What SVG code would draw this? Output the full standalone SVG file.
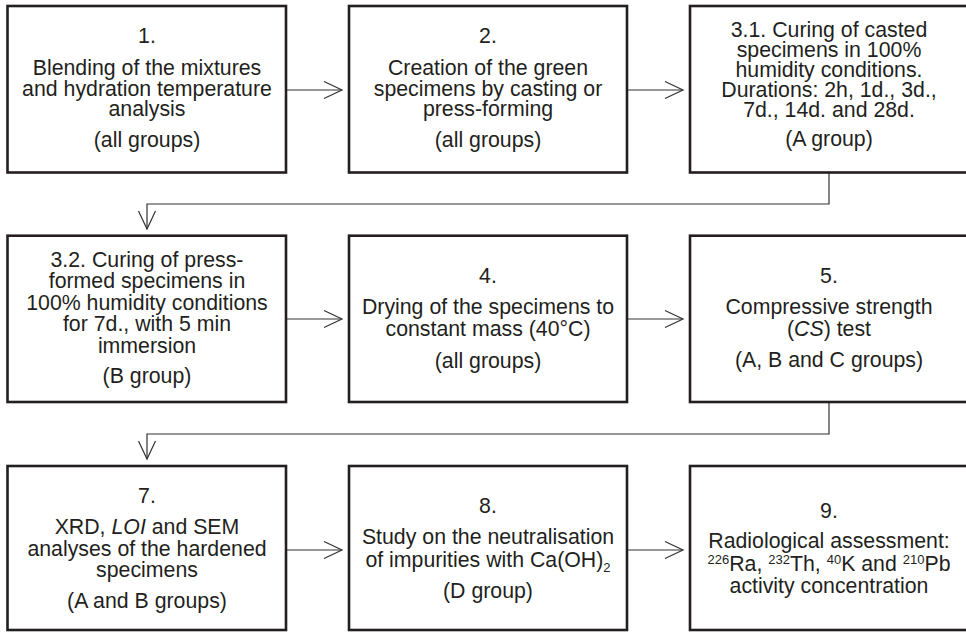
<svg xmlns="http://www.w3.org/2000/svg" width="966" height="632" viewBox="0 0 966 632">
<style>
.box{fill:#fff;stroke:#231f20;stroke-width:2.6}
.t{font-family:"Liberation Sans",Arial,Helvetica,sans-serif;font-size:21.3px;fill:#231f20;text-anchor:middle}
.c{fill:none;stroke:#333;stroke-width:1.2}
.sup{font-size:13px}
</style>
<defs>
<marker id="arr" markerUnits="userSpaceOnUse" markerWidth="20" markerHeight="20" refX="18" refY="9" orient="auto" viewBox="0 0 20 18" overflow="visible">
<path d="M0,0.5 L18,9 L0,17.5" fill="none" stroke="#333" stroke-width="1.2"/>
</marker>
</defs>
<rect width="966" height="632" fill="#fff"/>
<g id="connectors">
<path class="c" d="M287,90 H342" marker-end="url(#arr)"/>
<path class="c" d="M627,90 H683" marker-end="url(#arr)"/>
<path class="c" d="M829,172 V204 H147 V229" marker-end="url(#arr)"/>
<path class="c" d="M287,319 H342" marker-end="url(#arr)"/>
<path class="c" d="M627,319 H683" marker-end="url(#arr)"/>
<path class="c" d="M829,402 V434 H147 V459" marker-end="url(#arr)"/>
<path class="c" d="M287,550 H342" marker-end="url(#arr)"/>
<path class="c" d="M627,550 H683" marker-end="url(#arr)"/>
</g>
<g id="n1">
<rect class="box" x="7.5" y="6" width="278.5" height="166.5"/>
<text class="t" x="147" y="43">1.</text>
<text class="t" x="147" y="75">Blending of the mixtures</text>
<text class="t" x="147" y="95.5">and hydration temperature</text>
<text class="t" x="147" y="116">analysis</text>
<text class="t" x="147" y="146.5">(all groups)</text>
</g>
<g id="n2">
<rect class="box" x="349" y="6" width="278" height="166.5"/>
<text class="t" x="488" y="43">2.</text>
<text class="t" x="488" y="75">Creation of the green</text>
<text class="t" x="488" y="95.5">specimens by casting or</text>
<text class="t" x="488" y="116">press-forming</text>
<text class="t" x="488" y="146.5">(all groups)</text>
</g>
<g id="n3-1">
<rect class="box" x="690" y="6" width="279" height="166.5"/>
<text class="t" x="829" y="36.5">3.1. Curing of casted</text>
<text class="t" x="829" y="56.5">specimens in 100%</text>
<text class="t" x="829" y="76.5">humidity conditions.</text>
<text class="t" x="829" y="96.5">Durations: 2h, 1d., 3d.,</text>
<text class="t" x="829" y="116.5">7d., 14d. and 28d.</text>
<text class="t" x="829" y="145.5">(A group)</text>
</g>
<g id="n3-2">
<rect class="box" x="7.5" y="235.7" width="278.5" height="166.3"/>
<text class="t" x="147" y="266.5">3.2. Curing of press-</text>
<text class="t" x="147" y="288">formed specimens in</text>
<text class="t" x="147" y="309.5">100% humidity conditions</text>
<text class="t" x="147" y="331">for 7d., with 5 min</text>
<text class="t" x="147" y="352.5">immersion</text>
<text class="t" x="147" y="382.5">(B group)</text>
</g>
<g id="n4">
<rect class="box" x="349" y="235.7" width="278" height="166.3"/>
<text class="t" x="488" y="283">4.</text>
<text class="t" x="488" y="314">Drying of the specimens to</text>
<text class="t" x="488" y="336">constant mass (40°C)</text>
<text class="t" x="488" y="367.5">(all groups)</text>
</g>
<g id="n5">
<rect class="box" x="690" y="235.7" width="279" height="166.3"/>
<text class="t" x="829" y="283">5.</text>
<text class="t" x="829" y="314">Compressive strength</text>
<text class="t" x="829" y="336">(<tspan font-style="italic">CS</tspan>) test</text>
<text class="t" x="829" y="366.5">(A, B and C groups)</text>
</g>
<g id="n7">
<rect class="box" x="7.5" y="466" width="278.5" height="164"/>
<text class="t" x="147" y="503">7.</text>
<text class="t" x="147" y="533.5">XRD, <tspan font-style="italic">LOI</tspan> and SEM</text>
<text class="t" x="147" y="555.5">analyses of the hardened</text>
<text class="t" x="147" y="577">specimens</text>
<text class="t" x="147" y="607.5">(A and B groups)</text>
</g>
<g id="n8">
<rect class="box" x="349" y="466" width="278" height="164"/>
<text class="t" x="488" y="513">8.</text>
<text class="t" x="488" y="544">Study on the neutralisation</text>
<text class="t" x="488" y="566.5">of impurities with Ca(OH)<tspan class="sup" dy="5">2</tspan></text>
<text class="t" x="488" y="597.5">(D group)</text>
</g>
<g id="n9">
<rect class="box" x="690" y="466" width="279" height="164"/>
<text class="t" x="829" y="518">9.</text>
<text class="t" x="829" y="548">Radiological assessment:</text>
<text class="t" x="829" y="570.5"><tspan class="sup" dy="-7">226</tspan><tspan dy="7">Ra, </tspan><tspan class="sup" dy="-7">232</tspan><tspan dy="7">Th, </tspan><tspan class="sup" dy="-7">40</tspan><tspan dy="7">K and </tspan><tspan class="sup" dy="-7">210</tspan><tspan dy="7">Pb</tspan></text>
<text class="t" x="829" y="593">activity concentration</text>
</g>
</svg>
